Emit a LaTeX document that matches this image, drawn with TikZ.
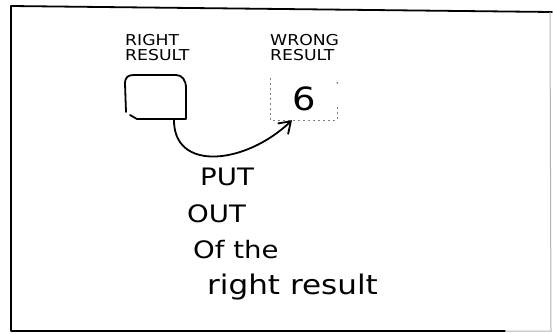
\documentclass[tikz,border=0pt]{standalone}
\usepackage{fontspec}
\newfontfamily\hand[FakeStretch=1.15]{DejaVu Sans}
\usetikzlibrary{arrows.meta}
\begin{document}
\begin{tikzpicture}[x=1pt,y=-1pt,
  ink/.style={draw=black, line width=1.8pt, line cap=round, line join=round},
  faint/.style={draw=black!30, line width=1pt},
  dots/.style={draw=black!50, line width=1pt, dash pattern=on 2pt off 3pt},
  lab/.style={font=\hand\fontsize{15}{15}\selectfont, align=left, anchor=west, inner sep=0pt},
  words/.style={font=\hand\fontsize{24}{24}\selectfont, anchor=base west, inner sep=0pt}]
\useasboundingbox (0,0) rectangle (554,333);
% frame
\draw[ink] (552,12) -- (11,6) -- (11,331) -- (505,331);
\draw[faint] (505,331) -- (551,331) -- (550,12);
% labels
\node[lab] (lright) at (125,48) {RIGHT\\RESULT};
\node[lab] (lwrong) at (270,48) {WRONG\\RESULT};
% right result box
\node[minimum width=62pt, minimum height=44pt, inner sep=0pt] (rbox) at (156,97) {};
\draw[ink] (126,112) -- (125,84) .. controls (125,77) and (128,75) .. (134,75)
  -- (176,75) .. controls (182,75) and (186,80) .. (186,88) -- (186,119)
  -- (137,119) -- (130,115);
% wrong result box
\node[minimum width=66pt, minimum height=42pt, inner sep=0pt,
      font=\hand\fontsize{32}{32}\selectfont] (wbox) at (304,99) {6};
\draw[dots] (wbox.north west) -- (wbox.south west) -- (wbox.south east) -- ([yshift=14pt]wbox.south east);
\fill[black!50] ([yshift=-5pt]wbox.north east) circle (1pt);
% arrow
\draw[ink, -{Straight Barb[length=11pt,width=15pt,line width=1.8pt]}]
  ([xshift=18pt]rbox.south) .. controls (173,172) and (245,165) .. ([xshift=-12pt]wbox.south);
% text
\node[words] (put) at (200,185) {PUT};
\node[words] (out) at (187,222) {OUT};
\node[words] (ofthe) at (193,258) {Of the};
\node[words, font=\hand\fontsize{27}{27}\selectfont] (rr) at (207,294) {right result};
\end{tikzpicture}
\end{document}
